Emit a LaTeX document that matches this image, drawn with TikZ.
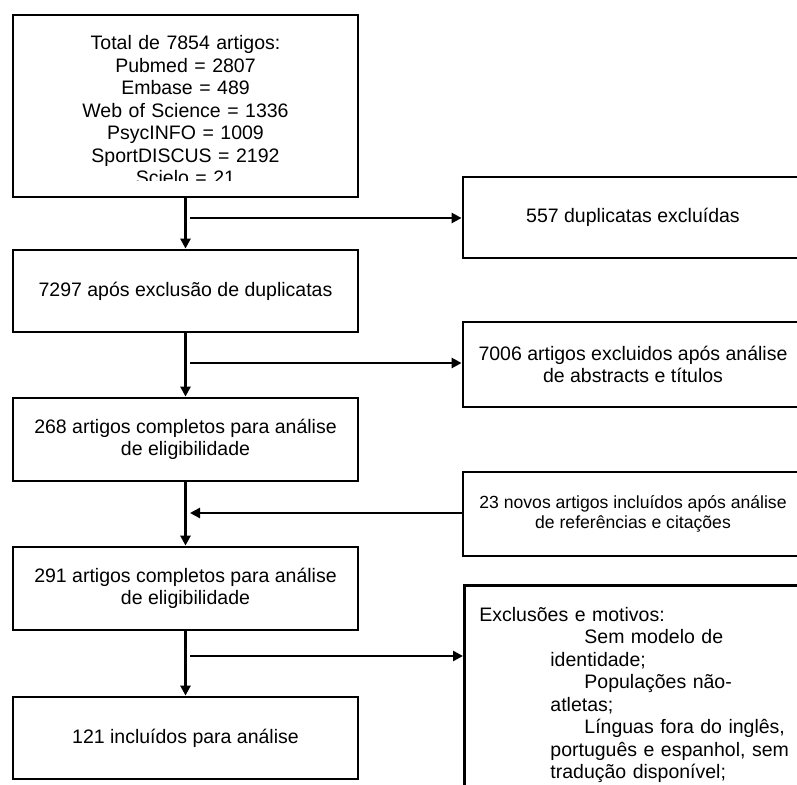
\documentclass[tikz,border=0pt]{standalone}
\usepackage{fontspec}
\setmainfont{Liberation Sans}
\usetikzlibrary{arrows.meta}
\tikzset{
  box/.style={draw, line width=1.4pt, inner sep=0pt, minimum width=172.5pt, align=center, font=\fontsize{9.75pt}{11.25pt}\selectfont},
  rbox/.style={box, minimum width=170pt},
  txt/.style={inner sep=0pt, text width=170pt, font=\fontsize{9.75pt}{11.25pt}\selectfont},
  arr/.style={-{Triangle[length=5pt,width=5pt]}, line width=1.25pt}
}
\begin{document}
\begin{tikzpicture}[x=0.5pt,y=-0.5pt]
\useasboundingbox (0,0) rectangle (797,785);
\clip (0,0) rectangle (797,785);
\node (n1) at (185.5,106) [box, minimum height=91pt] {};
\begin{scope}
\clip (n1.north west) rectangle (358,181);
\node (t1) at (185.5,50) [txt, anchor=base, align=center] {Total de 7854 artigos:\\Pubmed = 2807\\Embase = 489\\Web of Science = 1336\\PsycINFO = 1009\\SportDISCUS = 2192\\Scielo = 21};
\end{scope}
\node (n2) at (185.5,291) [box, minimum height=41pt] {7297 após exclusão de duplicatas};
\node (n3) at (185.5,439.5) [box, minimum height=41.5pt] {268 artigos completos para análise\\de eligibilidade};
\node (n4) at (185.5,588.5) [box, minimum height=41.5pt] {291 artigos completos para análise\\de eligibilidade};
\node (n5) at (185.5,738) [box, minimum height=41pt] {121 incluídos para análise};
\node (n6) at (633,217.5) [rbox, minimum height=40.5pt] {557 duplicatas excluídas};
\node (n7) at (633,364.5) [rbox, minimum height=42.5pt] {7006 artigos excluidos após análise\\de abstracts e títulos};
\node (n8) at (633,514) [rbox, minimum height=42pt, font=\fontsize{8.8pt}{10.35pt}\selectfont] {23 novos artigos incluídos após análise\\de referências e citações};
\node (n9) at (463,584) [rbox, anchor=north west, minimum height=115pt] {};
\node (t9) at (479,621) [txt, anchor=base west, text width=160pt, align=left] {Exclusões e motivos:\\
\hspace*{52.5pt}Sem modelo de\\
\hspace*{35.5pt}identidade;\\
\hspace*{52.5pt}Populações não-\\
\hspace*{35.5pt}atletas;\\
\hspace*{52.5pt}Línguas fora do inglês,\\
\hspace*{35.5pt}português e espanhol, sem\\
\hspace*{35.5pt}tradução disponível;};
\coordinate (c1) at (190,218);
\coordinate (c2) at (190,363);
\coordinate (c3) at (190,513);
\coordinate (c4) at (190,656);
\draw[arr] (n1) -- (n2);
\draw[arr] (n2) -- (n3);
\draw[arr] (n3) -- (n4);
\draw[arr] (n4) -- (n5);
\draw[arr] (c1) -- (c1 -| n6.west);
\draw[arr] (c2) -- (c2 -| n7.west);
\draw[arr] (c3 -| n8.west) -- (c3);
\draw[arr] (c4) -- (c4 -| n9.west);
\end{tikzpicture}
\end{document}
